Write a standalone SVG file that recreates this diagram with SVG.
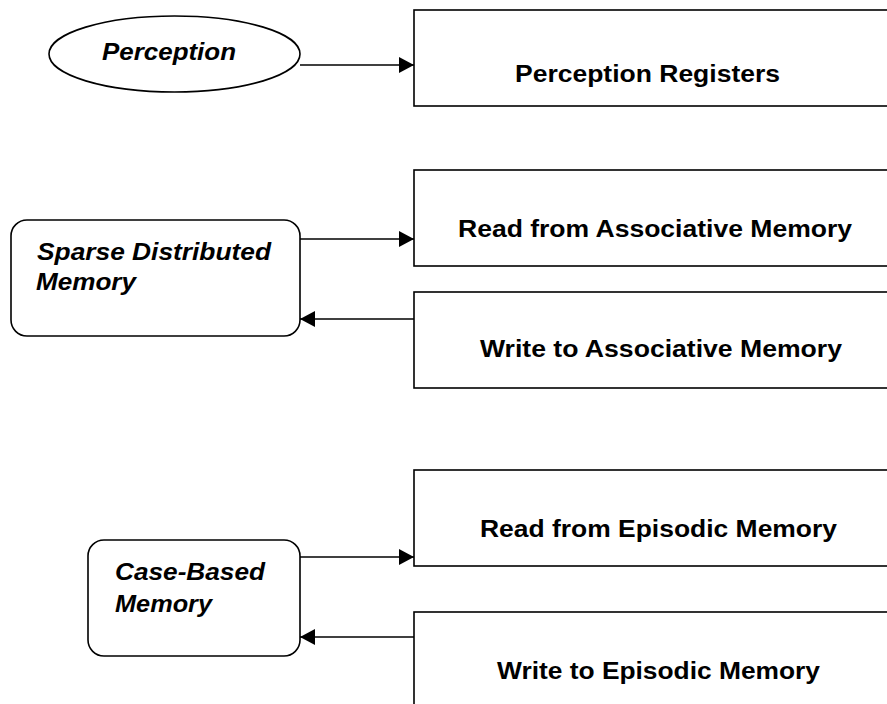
<svg xmlns="http://www.w3.org/2000/svg" width="887" height="704" viewBox="0 0 887 704">
<style>
.shape{fill:#fff;stroke:#000;stroke-width:1.6}
.lbl{font-family:"Liberation Sans",Arial,sans-serif;font-weight:bold;font-size:23px;fill:#000}
.it{font-style:italic}
.conn{stroke:#000;stroke-width:1.6;fill:none}
</style>
<defs>
<marker id="arr" markerUnits="userSpaceOnUse" markerWidth="16" markerHeight="16" refX="15" refY="8" orient="auto">
<path d="M0,0 L15,8 L0,16 z" fill="#000"/>
</marker>
</defs>
<rect width="887" height="704" fill="#fff"/>
<g id="perception">
<ellipse class="shape" cx="174.5" cy="54" rx="125.5" ry="38"/>
<text class="lbl it" x="102" y="60" textLength="134" lengthAdjust="spacingAndGlyphs">Perception</text>
</g>
<g id="perception-registers">
<rect class="shape" x="414" y="10" width="500" height="96"/>
<text class="lbl" x="515" y="82" textLength="265" lengthAdjust="spacingAndGlyphs">Perception Registers</text>
</g>
<g id="sdm">
<rect class="shape" x="11" y="220" width="289" height="116" rx="16" ry="16"/>
<text class="lbl it" x="37" y="260" textLength="234" lengthAdjust="spacingAndGlyphs">Sparse Distributed</text>
<text class="lbl it" x="36" y="290" textLength="100" lengthAdjust="spacingAndGlyphs">Memory</text>
</g>
<g id="read-assoc">
<rect class="shape" x="414" y="170" width="500" height="96"/>
<text class="lbl" x="458" y="237" textLength="394" lengthAdjust="spacingAndGlyphs">Read from Associative Memory</text>
</g>
<g id="write-assoc">
<rect class="shape" x="414" y="292" width="500" height="96"/>
<text class="lbl" x="480" y="357" textLength="362" lengthAdjust="spacingAndGlyphs">Write to Associative Memory</text>
</g>
<g id="cbm">
<rect class="shape" x="88" y="540" width="212" height="116" rx="16" ry="16"/>
<text class="lbl it" x="115" y="580" textLength="150" lengthAdjust="spacingAndGlyphs">Case-Based</text>
<text class="lbl it" x="115" y="612" textLength="97" lengthAdjust="spacingAndGlyphs">Memory</text>
</g>
<g id="read-episodic">
<rect class="shape" x="414" y="470" width="500" height="96"/>
<text class="lbl" x="480" y="537" textLength="357" lengthAdjust="spacingAndGlyphs">Read from Episodic Memory</text>
</g>
<g id="write-episodic">
<rect class="shape" x="414" y="612" width="500" height="120"/>
<text class="lbl" x="497" y="679" textLength="323" lengthAdjust="spacingAndGlyphs">Write to Episodic Memory</text>
</g>
<g id="connectors">
<line class="conn" x1="300" y1="65" x2="414" y2="65" marker-end="url(#arr)"/>
<line class="conn" x1="300" y1="239" x2="414" y2="239" marker-end="url(#arr)"/>
<line class="conn" x1="414" y1="319" x2="300" y2="319" marker-end="url(#arr)"/>
<line class="conn" x1="300" y1="557" x2="414" y2="557" marker-end="url(#arr)"/>
<line class="conn" x1="414" y1="637" x2="300" y2="637" marker-end="url(#arr)"/>
</g>
</svg>
